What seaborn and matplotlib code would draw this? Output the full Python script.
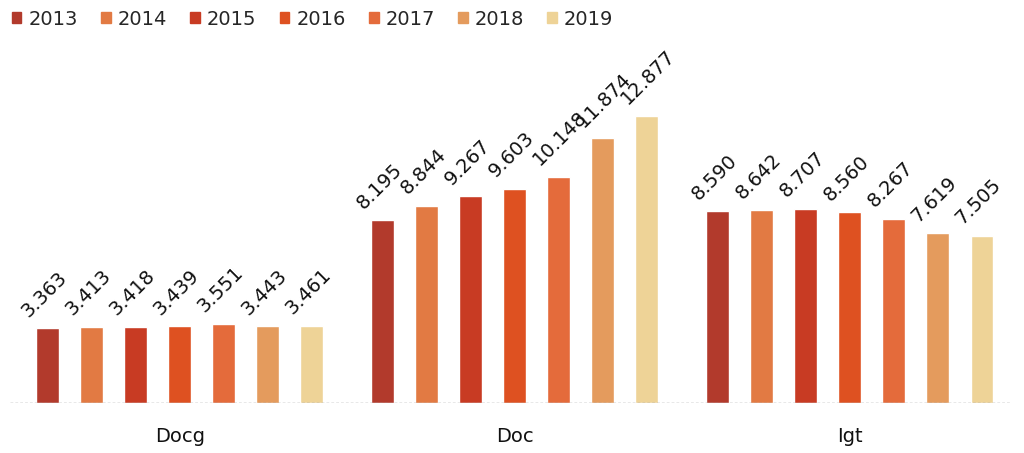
import pandas as pd
import matplotlib.pyplot as plt
import seaborn as sns
from matplotlib.patches import Patch

categories = ["Docg", "Doc", "Igt"]
years = ["2013", "2014", "2015", "2016", "2017", "2018", "2019"]
docg = [3.363, 3.413, 3.418, 3.439, 3.551, 3.443, 3.461]
doc = [8.195, 8.844, 9.267, 9.603, 10.148, 11.874, 12.877]
igt = [8.590, 8.642, 8.707, 8.560, 8.267, 7.619, 7.505]
colors = ["#b23a2c", "#e27a43", "#c83b23", "#de5121", "#e46b3b", "#e49b5d", "#eed397"]

rows = []
for cat, vals in zip(categories, [docg, doc, igt]):
    for y, v in zip(years, vals):
        rows.append({"cat": cat, "year": y, "value": v})
df = pd.DataFrame(rows)

sns.set_style("white")
plt.rcParams['font.family'] = ['DejaVu Sans']

fig = plt.figure(figsize=(10.24, 4.53), dpi=100)
ax = fig.add_axes([10/1024, 1 - 403/453, 1000/1024, 353/453])

sns.barplot(data=df, x="cat", y="value", hue="year", hue_order=years,
            palette=colors, width=0.92, gap=0.48, legend=False,
            saturation=1, ax=ax)

# rotated value labels over each bar
for cont in ax.containers:
    for bar in cont:
        h = bar.get_height()
        ax.annotate(f"{h:.3f}", (bar.get_x() + bar.get_width() / 2, h),
                    xytext=(-14, 7.5), textcoords="offset points",
                    rotation=45, rotation_mode="anchor",
                    ha="left", va="baseline", fontsize=14, color="#111111")

ax.set_xlim(-0.507, 2.478)
ax.set_ylim(0, 353 / 22.3)
ax.axhline(0, color="#8c8c8c", lw=1, ls=(0, (2, 1.5)))
sns.despine(ax=ax, left=True, bottom=True)
ax.set_yticks([])
ax.set_xlabel("")
ax.set_ylabel("")
ax.tick_params(axis="x", length=0, pad=17, labelsize=14, labelcolor="#111111")

handles = [Patch(color=c, label=y) for c, y in zip(colors, years)]
fig.legend(handles=handles, loc="upper left", bbox_to_anchor=(0.002, 1.0),
           ncol=7, frameon=False, fontsize=14, handlelength=0.5,
           handleheight=0.5, handletextpad=0.35, columnspacing=1.2,
           borderaxespad=0.1)

fig.savefig("out.png", dpi=100)
